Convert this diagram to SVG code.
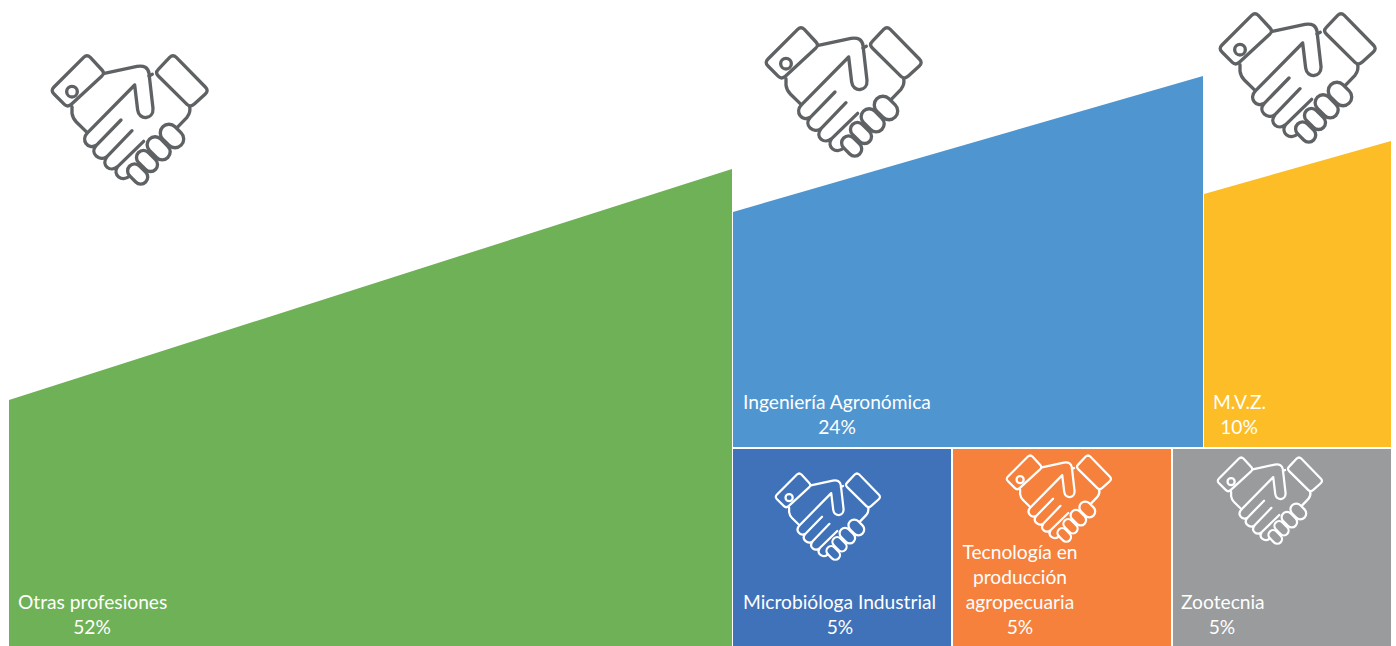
<svg xmlns="http://www.w3.org/2000/svg" width="1396" height="646" viewBox="0 0 1396 646">
<style>
text{font-family:Lato,"Liberation Sans",sans-serif;font-size:19.2px;fill:#fff}
.m{text-anchor:middle}
.g{stroke:#5f6264}
.w{stroke:#fff}
</style>
<defs>
<g id="hands" fill="none" stroke-width="10" stroke-linecap="round" stroke-linejoin="round">
<path d="M160 52Q170 42 180 52L215 90Q224 100 214 109L124 192Q112 203 102 193L71 162Q60 152 71 141Z"/>
<circle cx="125" cy="155" r="16"/>
<path d="M418 52Q428 42 438 52L525 141Q536 152 525 162L492 192Q480 203 470 193L384 108Q374 98 384 88Z"/>
<path d="M222 100L320 79Q352 74 356 100L368 205C370 240 326 242 322 210L313 135L172 278C150 300 172 330 198 316L272 240M198 316C176 340 208 366 230 350L305 272M230 350C210 376 240 398 262 380L340 304M262 380C245 405 275 428 298 408"/>
<path d="M125 200L125 220Q127 235 138 246L170 277"/>
<path d="M356 108L366 103M478 200Q482 216 470 232L441 262"/>
<rect x="386" y="262" width="78" height="52" rx="26" transform="rotate(45 425 288)"/>
<rect x="346" y="301" width="78" height="48" rx="24" transform="rotate(45 385 325)"/>
<rect x="314" y="342" width="72" height="42" rx="21" transform="rotate(45 350 363)"/>
<rect x="288" y="381" width="68" height="42" rx="21" transform="rotate(45 322 402)"/>
</g>
</defs>
<g id="connectors"></g>
<g id="otras">
<path d="M9 400L732 169V646H9Z" fill="#6fb156"/>
<use href="#hands" class="g" transform="translate(51 55) scale(.3333) translate(-62 -45)"/>
<text x="18" y="609">Otras profesiones</text>
<text x="92" y="634" class="m">52%</text>
</g>
<g id="agronomica">
<path d="M733 212L1203 76V447H733Z" fill="#4f95d0"/>
<use href="#hands" class="g" transform="translate(765 27) scale(.3333) translate(-62 -45)"/>
<text x="743" y="409">Ingeniería Agronómica</text>
<text x="837" y="434" class="m">24%</text>
</g>
<g id="mvz">
<path d="M1204 194L1391 141V447H1204Z" fill="#fdbd27"/>
<use href="#hands" class="g" transform="translate(1219 13) scale(.3333) translate(-62 -45)"/>
<text x="1213" y="409">M.V.Z.</text>
<text x="1239" y="434" class="m">10%</text>
</g>
<g id="microbiologa">
<rect x="733" y="449" width="218" height="197" fill="#3f72b8"/>
<use href="#hands" class="w" transform="translate(775 473) scale(.224) translate(-62 -45)"/>
<text x="743" y="609">Microbióloga Industrial</text>
<text x="840" y="634" class="m">5%</text>
</g>
<g id="tecnologia">
<rect x="953" y="449" width="218" height="197" fill="#f5813d"/>
<use href="#hands" class="w" transform="translate(1006 455) scale(.224) translate(-62 -45)"/>
<text x="1020" y="559" class="m">Tecnología en</text>
<text x="1020" y="584" class="m">producción</text>
<text x="1020" y="609" class="m">agropecuaria</text>
<text x="1020" y="634" class="m">5%</text>
</g>
<g id="zootecnia">
<rect x="1173" y="449" width="218" height="197" fill="#999b9c"/>
<use href="#hands" class="w" transform="translate(1217 457) scale(.224) translate(-62 -45)"/>
<text x="1181" y="609">Zootecnia</text>
<text x="1222" y="634" class="m">5%</text>
</g>
</svg>
